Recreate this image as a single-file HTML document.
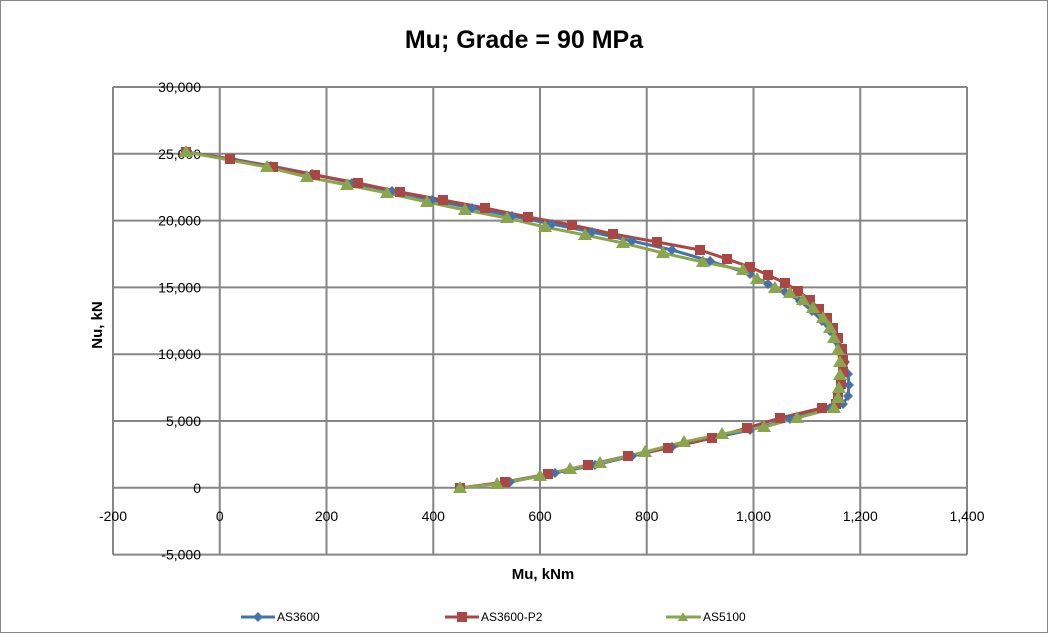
<!DOCTYPE html>
<html><head><meta charset="utf-8"><style>
html,body{margin:0;padding:0;background:#fff;}
svg{display:block;font-family:"Liberation Sans",sans-serif;}
</style></head><body>
<svg width="1048" height="634" viewBox="0 0 1048 634" xmlns="http://www.w3.org/2000/svg">
<rect x="0.5" y="0.5" width="1047" height="632" fill="#fff" stroke="#868686"/>
<text x="524" y="48" text-anchor="middle" font-size="25" font-weight="bold">Mu; Grade = 90 MPa</text>
<g id="grid" stroke="#868686" stroke-width="2"></g>
<g id="labels" font-size="14" fill="#000"></g>
<text x="102" y="325" font-size="15" font-weight="bold" text-anchor="middle" transform="rotate(-90 102 325)">Nu, kN</text>
<text x="543" y="579" font-size="15" font-weight="bold" text-anchor="middle">Mu, kNm</text>
<g id="series"></g>
<g font-size="12" fill="#000">
<line x1="241" y1="617" x2="275" y2="617" stroke="#4572A7" stroke-width="3"/><path d="M258,612 L263,617 L258,622 L253,617Z" fill="#4572A7"/>
<text x="277" y="621">AS3600</text>
<line x1="445" y1="617" x2="479" y2="617" stroke="#AA4643" stroke-width="3"/><rect x="457" y="612" width="10" height="10" fill="#AA4643"/>
<text x="481" y="621">AS3600-P2</text>
<line x1="666" y1="617" x2="701" y2="617" stroke="#89A54E" stroke-width="3"/><path d="M683,612 L688,621 L678,621Z" fill="#89A54E"/>
<text x="703" y="621">AS5100</text>
</g>
</svg>
<script>
var ns="http://www.w3.org/2000/svg";
function el(p,t,a,txt){var e=document.createElementNS(ns,t);for(var k in a)e.setAttribute(k,a[k]);if(txt!==undefined)e.textContent=txt;document.getElementById(p).appendChild(e);return e;}
var x0=113,xs=106.75,y0=87,ys=66.8;
for(var i=0;i<=8;i++){var x=x0+i*xs;el("grid","line",{x1:x,y1:y0,x2:x,y2:y0+7*ys});
 el("labels","text",{x:x,y:521,"text-anchor":"middle"},(i*200-200).toLocaleString("en-US"));}
for(var j=0;j<=7;j++){var y=y0+j*ys;el("grid","line",{x1:x0,y1:y,x2:x0+8*xs,y2:y});
 var v=30000-j*5000;var s=v<0?"-"+Math.abs(v).toLocaleString("en-US"):v.toLocaleString("en-US");
 el("labels","text",{x:201,y:y+5,"text-anchor":"end"},s);}
var g=[[186,152],[267,167],[307,177],[347,185],[387,193],[427,202],[465,210],[507,218],[545,227],[585,235],[623,243],[663,253],[703,262],[743,270],[757,279],[775,288],[790,293],[803,300],[813,308],[823,318],[830,328],[834,338],[838,350],[840,362],[840,375],[839,388],[838,398],[834,408],[797,418],[764,427],[722,434],[684,442],[645,452],[600,463],[570,469],[540,476],[497,484],[460,488]];
var r=[[186,152],[230,159],[273,167],[315,175],[358,183],[400,192],[443,200],[485,208],[528,217],[572,225],[613,234],[657,242],[700,250],[727,259],[750,267],[768,275],[785,283],[798,291],[810,300],[819,309],[827,318],[833,328],[838,338],[842,349],[843,360],[843,372],[841,384],[838,396],[836,404],[822,408],[780,418],[747,428],[712,438],[668,448],[628,456],[588,465],[548,474],[505,482],[460,488]];
var b=[[186,152],[232,159],[271,166],[312,174],[352,183],[392,191],[432,200],[472,208],[512,216],[552,224],[592,232],[632,241],[672,250],[710,261],[750,274],[768,284],[785,292],[800,301],[812,311],[822,321],[830,331],[836,341],[841,352],[845,362],[848,374],[849,385],[848,396],[843,404],[830,408],[790,419],[750,430],[712,438],[672,447],[632,456],[595,465],[555,473],[510,482],[460,488]];
function line(pts,c){el("series","polyline",{points:pts.map(p=>p.join(",")).join(" "),fill:"none",stroke:c,"stroke-width":3,"stroke-linejoin":"round"});}
line(b,"#4572A7");line(r,"#AA4643");line(g,"#89A54E");
b.forEach(p=>el("series","path",{d:`M${p[0]},${p[1]-5}L${p[0]+5},${p[1]}L${p[0]},${p[1]+5}L${p[0]-5},${p[1]}Z`,fill:"#4572A7"}));
r.forEach(p=>el("series","rect",{x:p[0]-5,y:p[1]-5,width:10,height:10,fill:"#AA4643"}));
g.forEach(p=>el("series","path",{d:`M${p[0]},${p[1]-7}L${p[0]+7},${p[1]+5}L${p[0]-7},${p[1]+5}Z`,fill:"#89A54E"}));
</script>
</body></html>
